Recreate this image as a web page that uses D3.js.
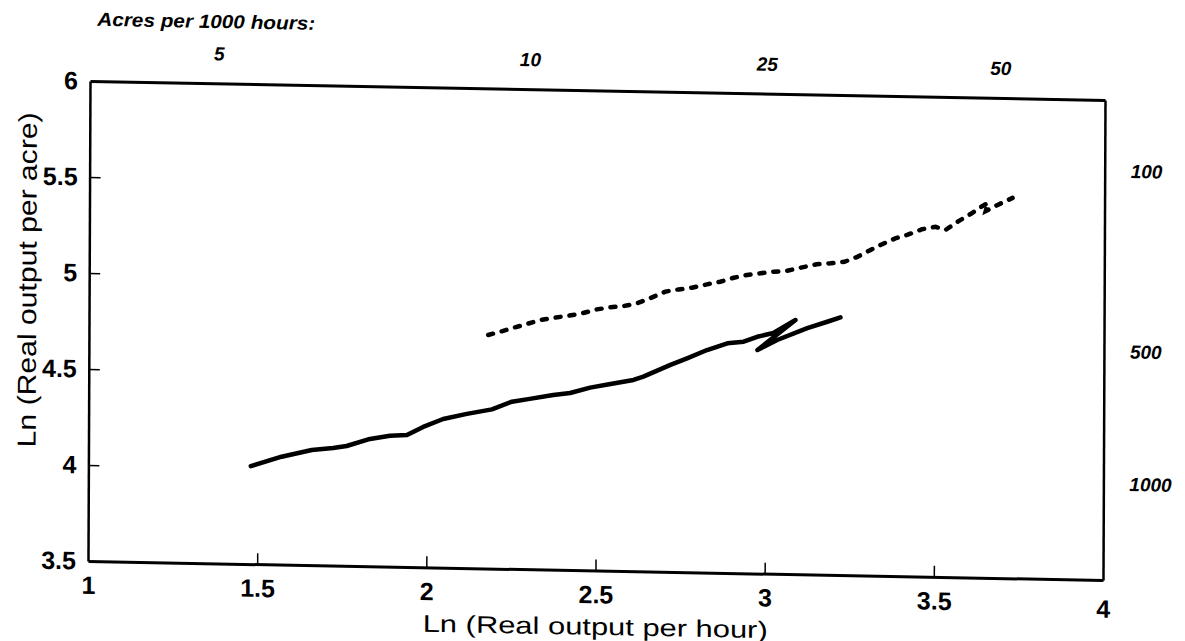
<!DOCTYPE html>
<html>
<head>
<meta charset="utf-8">
<script src="https://cdn.jsdelivr.net/npm/d3@7"></script>
<style>
  body { margin: 0; background: #fff; }
  svg { display: block; font-family: "Liberation Sans", Arial, Helvetica, sans-serif; }
</style>
</head>
<body>
<div class="chart"></div>
<script>
// axis ticks
const xTicks = [1, 1.5, 2, 2.5, 3, 3.5, 4];
const yTicks = [3.5, 4, 4.5, 5, 5.5, 6];

// "Acres per 1000 hours" labels (top and right margins)
const acreTopVals = [1.38, 2.3, 3.0, 3.69];
const acreTopLabels = ["5", "10", "25", "50"];
const acreRightVals = [5.63, 4.69, 4.0];
const acreRightLabels = ["100", "500", "1000"];

// solid series
const solidX = [1.48, 1.571, 1.66, 1.723, 1.763, 1.832, 1.891, 1.941, 1.989, 2.048, 2.118, 2.192,
  2.251, 2.299, 2.373, 2.423, 2.482, 2.542, 2.61, 2.639, 2.719, 2.768, 2.827, 2.887, 2.935,
  2.975, 3.023, 3.088, 2.976, 3.034, 3.123, 3.182, 3.221];
const solidY = [4.01, 4.062, 4.1, 4.112, 4.124, 4.163, 4.182, 4.187, 4.231, 4.274, 4.303, 4.329,
  4.371, 4.386, 4.41, 4.422, 4.452, 4.473, 4.496, 4.514, 4.578, 4.614, 4.659, 4.696, 4.706,
  4.733, 4.754, 4.824, 4.664, 4.718, 4.783, 4.818, 4.842];

// dashed series
const dashX = [2.18, 2.215, 2.254, 2.294, 2.333, 2.378, 2.417, 2.457, 2.501, 2.54, 2.58, 2.619,
  2.658, 2.703, 2.742, 2.782, 2.826, 2.865, 2.905, 2.944, 2.984, 3.023, 3.063, 3.107, 3.15,
  3.191, 3.232, 3.27, 3.309, 3.343, 3.382, 3.417, 3.461, 3.501, 3.53, 3.569, 3.604, 3.634,
  3.655, 3.649, 3.684, 3.728];
const dashY = [4.716, 4.734, 4.756, 4.777, 4.799, 4.813, 4.824, 4.838, 4.86, 4.872, 4.88, 4.895,
  4.923, 4.959, 4.972, 4.982, 5.001, 5.016, 5.038, 5.054, 5.064, 5.073, 5.08, 5.099, 5.116,
  5.123, 5.132, 5.159, 5.196, 5.227, 5.259, 5.278, 5.309, 5.323, 5.307, 5.355, 5.393, 5.43,
  5.452, 5.41, 5.443, 5.481];

const W = 1185, H = 641;
const width = 1015, height = 480;

const svg = d3.select('.chart').append('svg')
    .attr('width', W)
    .attr('height', H);

svg.append('rect').attr('width', W).attr('height', H).attr('fill', '#fff');

// the scanned figure is slightly sheared, so the whole plot sits in a skewed frame
const g = svg.append('g')
    .attr('transform', 'matrix(1,0.0187,-0.0042,1,90,81)');

const x = d3.scaleLinear().domain([1, 4]).range([0, width]);
const y = d3.scaleLinear().domain([3.5, 6]).range([height, 0]);

// bottom axis
const xAxis = g.append('g')
    .attr('transform', 'translate(0,' + height + ')')
    .call(d3.axisBottom(x).tickValues(xTicks).tickFormat(d3.format('')).tickSizeInner(-11).tickSizeOuter(0).tickPadding(15));

// left axis
const yAxis = g.append('g')
    .call(d3.axisLeft(y).tickValues(yTicks).tickFormat(d3.format('')).tickSizeInner(-11).tickSizeOuter(0).tickPadding(12));

// top axis carries the acres labels
const topAxis = g.append('g')
    .call(d3.axisTop(x).tickValues(acreTopVals)
        .tickFormat((d, i) => acreTopLabels[i]).tickSize(0).tickPadding(23));

// right axis carries the acres labels too
const rightAxis = g.append('g')
    .attr('transform', 'translate(' + width + ',0)')
    .call(d3.axisRight(y).tickValues(acreRightVals)
        .tickFormat((d, i) => acreRightLabels[i]).tickSize(0).tickPadding(26));

// no tick marks at the corners
xAxis.selectAll('.tick').filter(d => d === 1 || d === 4).select('line').remove();
yAxis.selectAll('.tick').filter(d => d === 3.5 || d === 6).select('line').remove();

xAxis.select('.domain').attr('stroke-width', 3);
yAxis.select('.domain').attr('stroke-width', 2.5);
topAxis.select('.domain').attr('stroke-width', 3);
rightAxis.select('.domain').attr('stroke-width', 2.5);
g.selectAll('.tick line').attr('stroke-width', 1.5);

xAxis.selectAll('text').attr('font-size', 25).attr('font-weight', 'bold').attr('fill', '#000');
yAxis.selectAll('text').attr('font-size', 25).attr('font-weight', 'bold').attr('fill', '#000');
topAxis.selectAll('text').attr('font-size', 19).attr('font-weight', 'bold').attr('font-style', 'italic').attr('fill', '#000');
rightAxis.selectAll('text').attr('font-size', 19).attr('font-weight', 'bold').attr('font-style', 'italic').attr('fill', '#000');

// the "4" sits a little lower than the others
xAxis.selectAll('.tick').filter(d => d === 4).select('text').attr('y', 20);

g.append('text')
    .attr('x', 7)
    .attr('y', -62)
    .attr('dy', '0.35em')
    .attr('font-size', 19)
    .attr('font-weight', 'bold')
    .attr('font-style', 'italic')
    .attr('textLength', 218)
    .attr('lengthAdjust', 'spacingAndGlyphs')
    .text('Acres per 1000 hours:');

// axis titles
g.append('text')
    .attr('x', x(2.5))
    .attr('y', height + 56)
    .attr('dy', '0.35em')
    .attr('text-anchor', 'middle')
    .attr('font-size', 24)
    .attr('textLength', 345)
    .attr('lengthAdjust', 'spacingAndGlyphs')
    .text('Ln (Real output per hour)');

g.append('text')
    .attr('transform', 'translate(-62,200) rotate(-90)')
    .attr('dy', '0.35em')
    .attr('text-anchor', 'middle')
    .attr('font-size', 26)
    .attr('textLength', 335)
    .attr('lengthAdjust', 'spacingAndGlyphs')
    .text('Ln (Real output per acre)');

// series
const line = d3.line()
    .x(d => x(d[0]))
    .y(d => y(d[1]));

g.append('path')
    .datum(d3.zip(solidX, solidY))
    .attr('fill', 'none')
    .attr('stroke', '#000')
    .attr('stroke-width', 4.5)
    .attr('stroke-linejoin', 'round')
    .attr('stroke-linecap', 'round')
    .attr('d', line);

g.append('path')
    .datum(d3.zip(dashX, dashY))
    .attr('fill', 'none')
    .attr('stroke', '#000')
    .attr('stroke-width', 4.5)
    .attr('stroke-linecap', 'round')
    .attr('stroke-dasharray', '5,9')
    .attr('d', line);
</script>
</body>
</html>
